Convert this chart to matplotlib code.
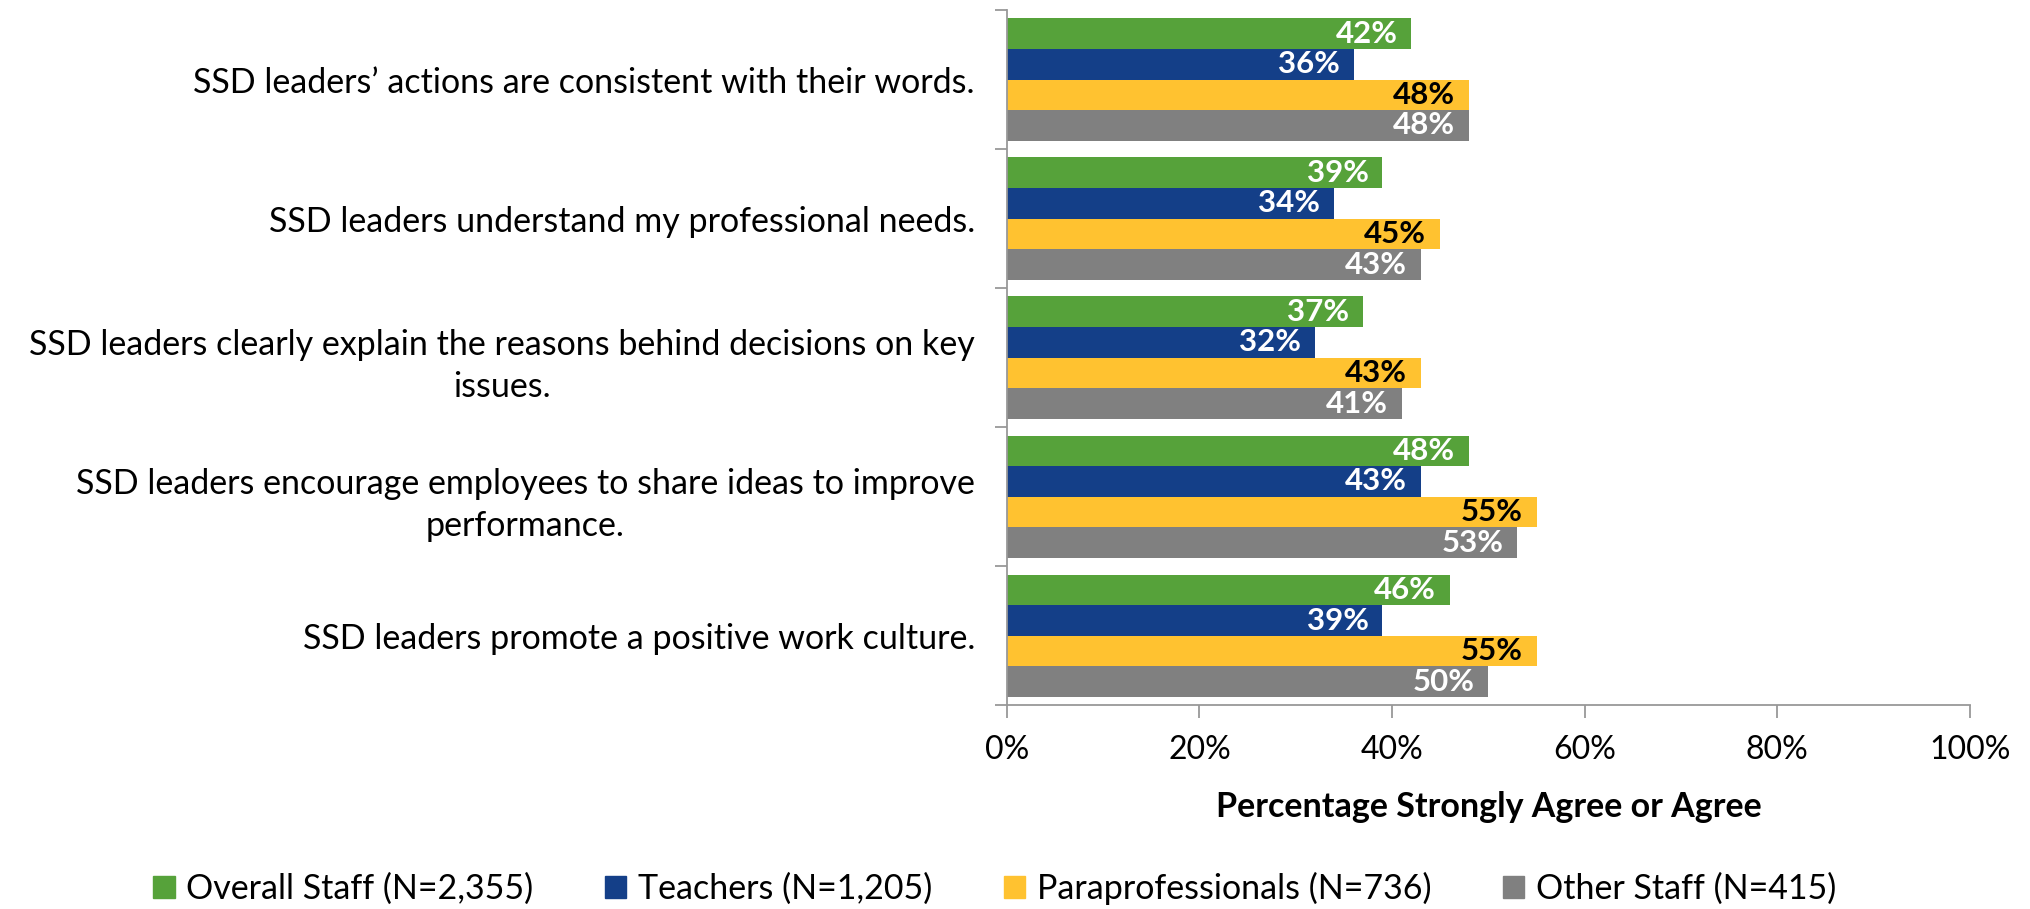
import matplotlib.pyplot as plt
import numpy as np
from matplotlib.patches import Patch

plt.rcParams['font.family'] = ['Lato', 'DejaVu Sans']

statements = [
    "SSD leaders\u2019 actions are consistent with their words.",
    "SSD leaders understand my professional needs.",
    "SSD leaders clearly explain the reasons behind decisions on key\nissues.",
    "SSD leaders encourage employees to share ideas to improve\nperformance.",
    "SSD leaders promote a positive work culture.",
]
groups = ["Overall Staff (N=2,355)", "Teachers (N=1,205)",
          "Paraprofessionals (N=736)", "Other Staff (N=415)"]
overall = [42, 39, 37, 48, 46]
teachers = [36, 34, 32, 43, 39]
paras = [48, 45, 43, 55, 55]
other = [48, 43, 41, 53, 50]

colors = ["#56A23A", "#143F88", "#FFC230", "#808080"]
label_colors = ["white", "white", "black", "white"]
axis_grey = "#989898"
fs = 24.5

fig = plt.figure(figsize=(20.3, 9.09), dpi=100)
ax = fig.add_axes([0.496, 0.224, 0.4744, 0.765])

y = np.arange(len(statements))
h = 0.22
series = [overall, teachers, paras, other]
for k, (vals, c, lc) in enumerate(zip(series, colors, label_colors)):
    pos = y + (k - 1.5) * h
    ax.barh(pos, vals, height=h, color=c, label=groups[k])
    for p, v in zip(pos, vals):
        ax.annotate(f"{v}%", (v, p), xytext=(-10, 0), textcoords="offset points",
                    ha="right", va="center", color=lc, fontsize=22.5,
                    fontweight="bold")

ax.set_xlim(0, 100)
ax.set_ylim(len(statements) - 0.5, -0.5)
ax.set_xticks(np.arange(0, 101, 20))
ax.set_xticklabels([f"{t}%" for t in range(0, 101, 20)], fontsize=23)
ax.set_yticks(y)
ax.set_yticklabels(statements, fontsize=fs)
for lbl in ax.get_yticklabels():
    lbl.set_multialignment("center")
    lbl.set_linespacing(1.4)
ax.set_yticks(np.arange(-0.5, len(statements)), minor=True)
ax.tick_params(axis="y", which="major", length=0, pad=23)
ax.tick_params(axis="y", which="minor", length=9, color=axis_grey, width=1.3)
ax.tick_params(axis="x", length=9, color=axis_grey, width=1.3, pad=12)

for s in ["top", "right"]:
    ax.spines[s].set_visible(False)
for s in ["left", "bottom"]:
    ax.spines[s].set_color(axis_grey)
    ax.spines[s].set_linewidth(1.3)

ax.set_xlabel("Percentage Strongly Agree or Agree", fontsize=fs,
              fontweight="bold", labelpad=19)

handles = [Patch(color=c) for c in colors]
fig.legend(handles, groups, loc="lower center", bbox_to_anchor=(0.49, -0.018),
           ncol=4, frameon=False, fontsize=fs, handlelength=0.62,
           handleheight=0.62, handletextpad=0.35, columnspacing=2.1,
           borderaxespad=0.2)

fig.savefig("out.png", dpi=100)
